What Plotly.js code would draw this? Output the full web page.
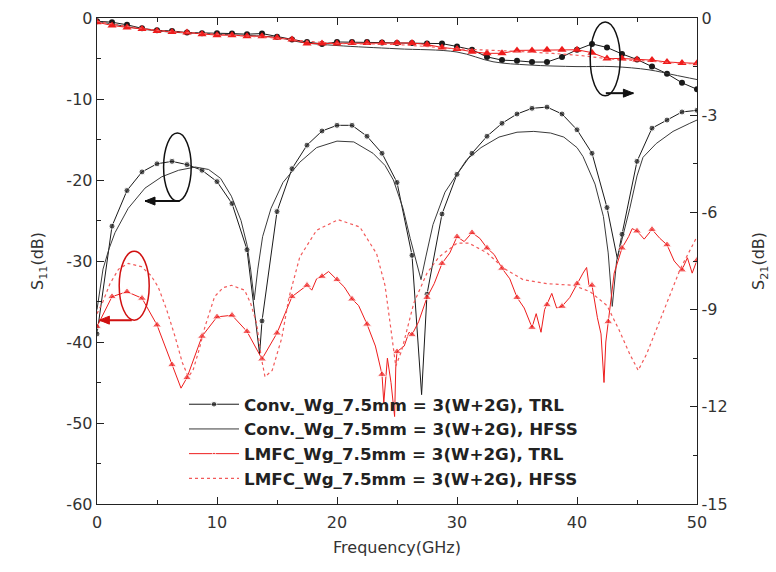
<!DOCTYPE html>
<html>
<head>
<meta charset="utf-8">
<script src="https://cdn.plot.ly/plotly-3.0.1.min.js"></script>
<style>html,body{margin:0;padding:0;background:#fff;}#chart{width:776px;height:572px;}</style>
</head>
<body>
<div id="chart"></div>
<script>
// ---------------- DATA ----------------
const seriesNames = [
  "Conv._Wg_7.5mm = 3(W+2G), TRL",
  "Conv._Wg_7.5mm = 3(W+2G), HFSS",
  "LMFC_Wg_7.5mm = 3(W+2G), TRL",
  "LMFC_Wg_7.5mm = 3(W+2G), HFSS"
];

// Conv TRL, S11 (markers every 1.25 GHz; extra points mark the sharp nulls)
const convTrlS11Freq = [0,1.25,2.5,3.75,5,6.25,7.5,8.75,10,11.25,12.5,13.55,13.75,15,16.25,17.5,18.75,20,21.25,22.5,23.75,25,26.25,27.05,27.5,28.75,30,31.25,32.5,33.75,35,36.25,37.5,38.75,40,41.25,42.5,43.36,43.75,45,46.25,47.5,48.75,50];
const convTrlS11 = [-39.0,-25.7,-21.3,-19.0,-18.0,-17.7,-18.1,-18.8,-20.2,-22.9,-28.6,-41.5,-37.4,-23.9,-18.6,-15.7,-13.95,-13.25,-13.25,-14.6,-16.7,-20.3,-29.3,-46.5,-34.1,-24.2,-19.3,-16.7,-14.6,-13.0,-11.85,-11.15,-11.0,-11.85,-13.8,-16.7,-23.4,-29.7,-26.7,-17.7,-13.6,-12.6,-11.6,-11.4];
const convTrlS11Marked = [1,1,1,1,1,1,1,1,1,1,1,0,1,1,1,1,1,1,1,1,1,1,1,0,1,1,1,1,1,1,1,1,1,1,1,1,1,0,1,1,1,1,1,1];

// Conv HFSS, S11
const convHfssS11Freq = [0,0.5,1.0,1.5,2.6,4.0,5.4,6.8,8.2,9.3,10.3,11.2,12.0,12.5,12.8,13.1,13.4,13.8,14.5,15.5,16.9,18.3,20.0,21.4,23.0,24.0,24.7,25.5,26.1,26.6,27.0,27.4,28.0,29.0,30.0,30.8,32.0,33.5,35.0,36.4,37.8,38.9,40.0,40.5,41.5,42.2,42.6,42.94,43.3,43.8,44.4,45.0,45.5,46.6,48.0,49.4,50];
const convHfssS11 = [-36,-31,-28.5,-26.5,-23.5,-21.0,-19.6,-18.8,-18.4,-18.7,-19.8,-22.0,-25.0,-28.0,-31,-34.8,-31,-27,-23.5,-20.3,-17.8,-16.0,-15.2,-15.3,-16.7,-18.2,-20.0,-23.5,-27.2,-30,-32.3,-29.5,-25.5,-21.5,-19.2,-17.5,-16.0,-14.7,-14.1,-14.0,-14.2,-14.7,-16.0,-17.1,-20.5,-24.5,-29,-35.6,-30,-27,-23.5,-19.5,-17.2,-15.5,-14.0,-13.0,-12.6];

// LMFC TRL, S11 (triangles every 1.25 GHz; unmarked points are the measured ripple)
const lmfcTrlS11Freq = [0,1.25,2.5,3.75,5,6.25,7.0,7.5,8.75,10,11.25,12.5,13.75,15,16.25,17.5,17.9,18.3,18.75,19.3,20,20.6,21.25,21.8,22.5,23.2,23.75,23.9,24.2,24.5,24.8,24.9,25,25.6,26.0,26.25,26.8,27.1,27.5,28.1,28.75,29.4,30,30.6,31.25,31.9,32.5,33.1,33.75,34.4,35,35.6,36.25,36.6,37.0,37.3,37.5,37.9,38.3,38.75,39.4,40,40.5,40.8,41.0,41.25,41.7,42.0,42.25,42.4,42.6,43.1,43.75,44.3,44.6,45,45.6,46.25,46.9,47.5,48.1,48.75,49.2,49.6,50];
const lmfcTrlS11 = [-38.1,-34.4,-33.8,-34.6,-37.9,-42.8,-45.7,-44.4,-39.3,-36.9,-36.7,-38.7,-42.1,-38.9,-34.4,-33.0,-33.6,-32.2,-31.9,-31.3,-32.3,-33.2,-34.7,-35.5,-37.8,-40.5,-44,-47.5,-42,-45,-49.2,-43,-41.2,-40.5,-38.8,-39.1,-37.5,-36.2,-34.5,-32.8,-30.3,-29.0,-27.0,-27.6,-26.5,-27.2,-28.4,-29.2,-30.9,-32.2,-34.5,-35.8,-38.2,-36.5,-38.8,-36.0,-35.4,-34.0,-35.8,-35.6,-34.5,-32.8,-31.5,-30.8,-33.0,-33.0,-37.0,-39.0,-45.0,-40.0,-37.5,-31.5,-28.4,-27.0,-26.0,-26.3,-27.3,-26.1,-27.2,-28.0,-30.0,-31.1,-29.6,-31.5,-29.9];
const lmfcTrlS11Marked = [1,1,1,1,1,1,0,1,1,1,1,1,1,1,1,1,0,0,1,0,1,0,1,0,1,0,1,0,0,0,0,0,1,0,0,1,0,0,1,0,1,0,1,0,1,0,1,0,1,0,1,0,1,0,0,0,1,0,0,1,0,1,0,0,0,1,0,0,0,0,1,0,1,0,0,1,0,1,0,1,0,1,0,0,1];

// LMFC HFSS, S11
const lmfcHfssS11Freq = [0,0.5,1.08,1.8,2.6,3.7,4.5,5.1,5.8,6.5,7.1,7.6,8.0,8.5,9.0,9.8,10.5,11.2,12.3,12.8,13.3,13.7,14.0,14.6,15.4,16.0,16.9,18.3,20.1,21.9,23.3,24.0,24.5,24.9,25.4,26.4,27.5,28.5,30.0,31.0,32.5,34.0,35.5,37.5,39.7,41.1,42.5,43.5,44.4,45.1,45.8,46.6,47.6,48.6,50];
const lmfcHfssS11 = [-36.5,-35,-32.8,-31,-30.3,-30.7,-31.8,-33.2,-36,-39.3,-42.5,-44.3,-43.5,-41,-38.1,-34.4,-33.3,-33.0,-33.6,-35.2,-37.7,-42,-44.3,-43.5,-39.5,-34.5,-29.5,-26.2,-24.9,-25.8,-29.1,-33,-38.5,-43.0,-41.0,-35.2,-31.5,-29.5,-27.8,-27.8,-29.0,-31.0,-32.3,-32.8,-33.0,-33.8,-35.5,-38.5,-41.5,-43.5,-41.5,-38.5,-35,-31.0,-27];

// S21 (right axis), sampled every 1.25 GHz
const s21Freq = [0,1.25,2.5,3.75,5,6.25,7.5,8.75,10,11.25,12.5,13.75,15,16.25,17.5,18.75,20,21.25,22.5,23.75,25,26.25,27.5,28.75,30,31.25,32.5,33.75,35,36.25,37.5,38.75,40,41.25,42.5,43.75,45,46.25,47.5,48.75,50];
const convTrlS21 = [-0.1,-0.13,-0.21,-0.32,-0.38,-0.4,-0.45,-0.47,-0.47,-0.48,-0.5,-0.48,-0.58,-0.66,-0.74,-0.8,-0.74,-0.74,-0.74,-0.76,-0.77,-0.77,-0.79,-0.79,-0.88,-0.98,-1.2,-1.3,-1.32,-1.36,-1.36,-1.2,-0.98,-0.8,-0.91,-1.11,-1.28,-1.5,-1.72,-2.0,-2.2];
const lmfcTrlS21 = [-0.13,-0.23,-0.29,-0.34,-0.4,-0.43,-0.45,-0.5,-0.53,-0.53,-0.56,-0.56,-0.61,-0.66,-0.79,-0.79,-0.79,-0.77,-0.77,-0.77,-0.77,-0.77,-0.82,-0.91,-0.96,-1.04,-1.09,-1.09,-1.0,-1.0,-0.98,-0.98,-0.98,-1.07,-1.25,-1.25,-1.28,-1.3,-1.36,-1.39,-1.4];
const s21HfssFreq = [0,5,10,15,17,20,25,30,33,36,40,43,46,48,50];
const convHfssS21 = [-0.1,-0.4,-0.5,-0.6,-0.75,-0.85,-0.95,-1.05,-1.35,-1.45,-1.5,-1.5,-1.6,-1.75,-1.9];
const lmfcHfssS21 = [-0.1,-0.38,-0.5,-0.62,-0.7,-0.78,-0.82,-0.95,-1.0,-1.05,-1.15,-1.27,-1.33,-1.38,-1.42];

// Tick labels
const xTickVals = [0,10,20,30,40,50];
const xTickText = ['0','10','20','30','40','50'];
const s11TickVals = [0,-10,-20,-30,-40,-50,-60];
const s11TickText = ['0','-10','-20','-30','-40','-50','-60'];
const s21TickVals = [0,-3,-6,-9,-12,-15];
const s21TickText = ['0','-3','-6','-9','-12','-15'];

// ---------------- STYLE ----------------
const BLACK = '#1a1a1a';
const GREY = '#3a3a3a';
const RED = '#ee1c1c';
const RED_LIGHT = '#f25a5a';
const AX = '#222';
const FONT = 'DejaVu Sans, Arial, sans-serif';
const sizes = (flags, s) => flags.map(f => f ? s : 0);

const traces = [
  {x: convTrlS11Freq, y: convTrlS11, name: seriesNames[0], legendgroup: 'g0', mode: 'lines+markers',
   line: {color: BLACK, width: 1}, marker: {symbol: 'circle', color: BLACK, size: sizes(convTrlS11Marked, 6)}},
  {x: s21Freq, y: convTrlS21, yaxis: 'y2', legendgroup: 'g0', showlegend: false, mode: 'lines+markers',
   line: {color: BLACK, width: 1}, marker: {symbol: 'circle', color: BLACK, size: 6}},
  {x: convHfssS11Freq, y: convHfssS11, name: seriesNames[1], legendgroup: 'g1', mode: 'lines',
   line: {color: GREY, width: 1}},
  {x: s21HfssFreq, y: convHfssS21, yaxis: 'y2', legendgroup: 'g1', showlegend: false, mode: 'lines',
   line: {color: GREY, width: 1, shape: 'spline'}},
  {x: lmfcTrlS11Freq, y: lmfcTrlS11, name: seriesNames[2], legendgroup: 'g2', mode: 'lines+markers',
   line: {color: RED, width: 1}, marker: {symbol: 'triangle-up', color: RED, size: sizes(lmfcTrlS11Marked, 8)}},
  {x: s21Freq, y: lmfcTrlS21, yaxis: 'y2', legendgroup: 'g2', showlegend: false, mode: 'lines+markers',
   line: {color: RED, width: 1}, marker: {symbol: 'triangle-up', color: RED, size: 8}},
  {x: lmfcHfssS11Freq, y: lmfcHfssS11, name: seriesNames[3], legendgroup: 'g3', mode: 'lines',
   line: {color: RED_LIGHT, width: 1.2, dash: 'dot'}},
  {x: s21HfssFreq, y: lmfcHfssS21, yaxis: 'y2', legendgroup: 'g3', showlegend: false, mode: 'lines',
   line: {color: RED_LIGHT, width: 1.2, dash: 'dot', shape: 'spline'}}
];

const tickFont = {family: FONT, size: 16, color: '#333'};
const titleFont = {family: FONT, size: 16, color: '#333'};

// arrow = shaft line + pixel-sized head anchored at the tip
function arrow(xref, yref, xTip, xTail, y, color) {
  return [
    {type: 'line', xref: xref, yref: yref, x0: xTail, x1: xTip, y0: y, y1: y, line: {color: color, width: 2}},
    {type: 'path', xref: xref, yref: yref, xsizemode: 'pixel', ysizemode: 'pixel', xanchor: xTip, yanchor: y,
     path: (xTip < xTail) ? 'M0,0 L10,4 L10,-4 Z' : 'M0,0 L-10,4 L-10,-4 Z',
     fillcolor: color, line: {color: color, width: 1}}
  ];
}

const layout = {
  width: 776, height: 572,
  margin: {l: 97, r: 79, t: 18, b: 68},
  paper_bgcolor: '#fff', plot_bgcolor: '#fff',
  showlegend: true,
  legend: {x: 0.145, y: 0.241, xanchor: 'left', yanchor: 'top', bgcolor: 'rgba(0,0,0,0)',
           font: {family: FONT, size: 16.7, color: '#222', weight: 'bold'},
           tracegroupgap: 0, itemwidth: 50},
  xaxis: {range: [0, 50], tickvals: xTickVals, ticktext: xTickText, ticks: 'inside', ticklen: 7, tickcolor: AX,
          showline: true, linecolor: AX, linewidth: 1.3, mirror: 'ticks', showgrid: false, zeroline: false,
          minor: {dtick: 5, ticks: 'inside', ticklen: 4, tickcolor: AX},
          ticklabelstandoff: 3,
          tickfont: tickFont, title: {text: 'Frequency(GHz)', font: titleFont, standoff: 11}},
  yaxis: {range: [-60, 0], tickvals: s11TickVals, ticktext: s11TickText, ticks: 'inside', ticklen: 7, tickcolor: AX,
          showline: true, linecolor: AX, linewidth: 1.3, showgrid: false, zeroline: false,
          minor: {dtick: 5, ticks: 'inside', ticklen: 4, tickcolor: AX},
          tickfont: tickFont, title: {text: 'S<sub>11</sub>(dB)', font: titleFont, standoff: 18}},
  yaxis2: {range: [-15, 0], tickvals: s21TickVals, ticktext: s21TickText, overlaying: 'y', side: 'right', ticks: 'inside', ticklen: 7, tickcolor: AX,
           showline: true, linecolor: AX, linewidth: 1.3, showgrid: false, zeroline: false,
           minor: {dtick: 1.5, ticks: 'inside', ticklen: 4, tickcolor: AX},
           tickfont: tickFont, title: {text: 'S<sub>21</sub>(dB)', font: titleFont, standoff: 26}},
  shapes: [
    {type: 'circle', xref: 'x', yref: 'y', x0: 5.55, x1: 7.85, y0: -22.6, y1: -14.2, line: {color: '#111', width: 1.5}},
    {type: 'circle', xref: 'x', yref: 'y2', x0: 41.1, x1: 43.6, y0: -2.4, y1: -0.12, line: {color: '#111', width: 1.5}},
    {type: 'circle', xref: 'x', yref: 'y', x0: 1.85, x1: 4.35, y0: -37.3, y1: -28.8, line: {color: '#d01010', width: 1.5}}
  ].concat(
    arrow('x', 'y', 4.0, 6.9, -22.6, '#111'),
    arrow('x', 'y2', 44.7, 42.4, -2.32, '#111'),
    arrow('x', 'y', 0.2, 2.9, -37.3, '#d01010')
  )
};

Plotly.newPlot('chart', traces, layout, {staticPlot: true});
</script>
</body>
</html>
